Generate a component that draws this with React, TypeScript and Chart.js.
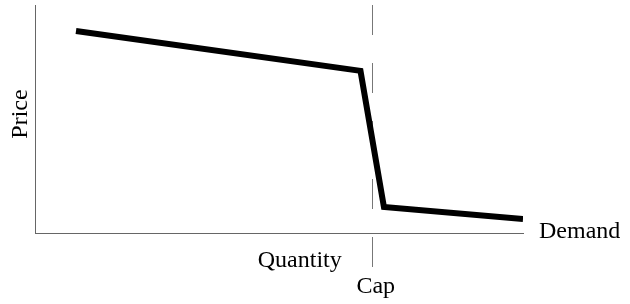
import React, { useEffect, useRef } from "react";
import { Chart, registerables } from "chart.js";

Chart.register(...registerables);

// Demand curve points (quantity, price) on a 0–100 scale
const demandQuantity = [8.4, 66.7, 71.5, 100];
const demandPrice = [88.6, 71.1, 11.4, 6.1];
const capQuantity = 69;
const axisLabels = { x: "Quantity", y: "Price", cap: "Cap", curve: "Demand" };

const FONT = "24px 'Liberation Serif', 'DejaVu Serif', serif";

const labelPlugin = {
  id: "labels",
  beforeDatasetsDraw(chart: any) {
    const { ctx, chartArea, scales } = chart;
    const cx = scales.x.getPixelForValue(capQuantity);
    ctx.save();
    ctx.strokeStyle = "#777";
    ctx.lineWidth = 1;
    ctx.setLineDash([30, 28]);
    ctx.beginPath();
    ctx.moveTo(Math.round(cx) + 0.5, chartArea.top);
    ctx.lineTo(Math.round(cx) + 0.5, chartArea.bottom + 34);
    ctx.stroke();
    ctx.restore();
  },
  afterDraw(chart: any) {
    const { ctx, chartArea, scales } = chart;
    const cx = scales.x.getPixelForValue(capQuantity);
    ctx.save();
    ctx.fillStyle = "#000";
    ctx.font = FONT;
    ctx.textBaseline = "alphabetic";
    ctx.textAlign = "center";
    ctx.fillText(axisLabels.x, cx - 72, chartArea.bottom + 34);
    ctx.fillText(axisLabels.cap, cx + 4, chartArea.bottom + 60);
    ctx.textAlign = "left";
    const endY = scales.y.getPixelForValue(demandPrice[demandPrice.length - 1]);
    ctx.fillText(axisLabels.curve, chartArea.right + 16, endY + 19);
    ctx.translate(chartArea.left - 8, (chartArea.top + chartArea.bottom) / 2);
    ctx.rotate(-Math.PI / 2);
    ctx.textAlign = "center";
    ctx.fillText(axisLabels.y, 5, 0);
    ctx.restore();
  },
};

export default function App() {
  const ref = useRef<HTMLCanvasElement>(null);
  useEffect(() => {
    if (!ref.current) return;
    const chart = new Chart(ref.current, {
      type: "scatter",
      data: {
        datasets: [
          {
            data: demandQuantity.map((q, i) => ({ x: q, y: demandPrice[i] })),
            showLine: true,
            borderColor: "#000",
            borderWidth: 6,
            borderJoinStyle: "miter",
            borderCapStyle: "butt",
            pointRadius: 0,
            tension: 0,
          },
        ],
      },
      options: {
        responsive: false,
        animation: false,
        layout: { padding: { left: 27, top: 5, right: 107, bottom: 63 } },
        plugins: { legend: { display: false }, tooltip: { enabled: false } },
        scales: {
          x: {
            type: "linear",
            min: 0,
            max: 100,
            ticks: { display: false },
            grid: { display: false },
            border: { display: true, color: "#666", width: 1 },
          },
          y: {
            type: "linear",
            min: 0,
            max: 100,
            ticks: { display: false },
            grid: { display: false },
            border: { display: true, color: "#666", width: 1 },
          },
        },
      },
      plugins: [labelPlugin],
    });
    return () => chart.destroy();
  }, []);
  return (
    <div style={{ position: "absolute", left: 0, top: 0, width: 630, height: 304, background: "#fff" }}>
      <canvas ref={ref} width={630} height={304} />
    </div>
  );
}
